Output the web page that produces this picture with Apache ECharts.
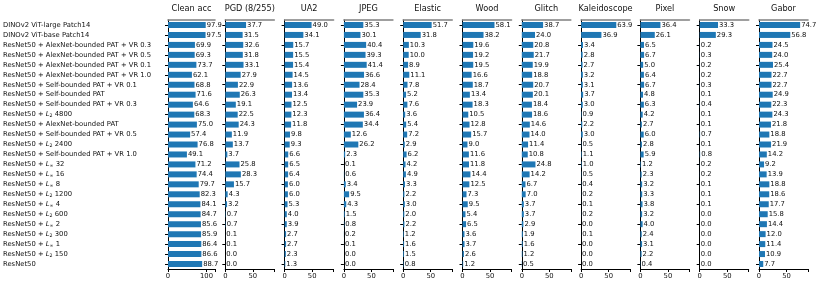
<!DOCTYPE html>
<html>
<head>
<meta charset="utf-8">
<script src="https://cdn.jsdelivr.net/npm/echarts@6/dist/echarts.min.js"></script>
<style>html,body{margin:0;padding:0;background:#fff}#c{width:816px;height:284px}</style>
</head>
<body>
<div id="c"></div>
<script>
const models = [
  "DINOv2 ViT-large Patch14",
  "DINOv2 ViT-base Patch14",
  "ResNet50 + AlexNet-bounded PAT + VR 0.3",
  "ResNet50 + AlexNet-bounded PAT + VR 0.5",
  "ResNet50 + AlexNet-bounded PAT + VR 0.1",
  "ResNet50 + AlexNet-bounded PAT + VR 1.0",
  "ResNet50 + Self-bounded PAT + VR 0.1",
  "ResNet50 + Self-bounded PAT",
  "ResNet50 + Self-bounded PAT + VR 0.3",
  "ResNet50 + L₂ 4800",
  "ResNet50 + AlexNet-bounded PAT",
  "ResNet50 + Self-bounded PAT + VR 0.5",
  "ResNet50 + L₂ 2400",
  "ResNet50 + Self-bounded PAT + VR 1.0",
  "ResNet50 + L∞ 32",
  "ResNet50 + L∞ 16",
  "ResNet50 + L∞ 8",
  "ResNet50 + L₂ 1200",
  "ResNet50 + L∞ 4",
  "ResNet50 + L₂ 600",
  "ResNet50 + L∞ 2",
  "ResNet50 + L₂ 300",
  "ResNet50 + L∞ 1",
  "ResNet50 + L₂ 150",
  "ResNet50"
];
const panelTitles = ["Clean acc","PGD (8/255)","UA2","JPEG","Elastic","Wood","Glitch","Kaleidoscope","Pixel","Snow","Gabor"];
const cleanAcc = [97.9,97.5,69.9,69.3,73.7,62.1,68.8,71.6,64.6,68.3,75.0,57.4,76.8,49.1,71.2,74.4,79.7,82.3,84.1,84.7,85.6,85.9,86.4,86.6,88.7];
const pgd = [37.7,31.5,32.6,31.8,33.1,27.9,22.9,26.3,19.1,22.5,24.3,11.9,13.7,3.7,25.8,28.3,15.7,4.3,3.2,0.7,0.7,0.1,0.1,0.0,0.0];
const ua2 = [49.0,34.1,15.7,15.5,15.4,14.5,13.6,13.4,12.5,12.3,11.8,9.8,9.3,6.6,6.5,6.4,6.0,6.0,5.3,4.0,3.9,2.7,2.7,2.3,1.3];
const jpeg = [35.3,30.1,40.4,39.3,41.4,36.6,28.4,35.3,23.9,36.4,34.4,12.6,26.2,2.3,0.1,0.6,3.4,9.5,4.3,1.5,0.8,0.2,0.1,0.0,0.0];
const elastic = [51.7,31.8,10.3,10.0,8.9,11.1,7.8,5.2,7.6,3.6,5.4,7.2,2.9,6.2,4.2,4.9,3.3,2.2,3.0,2.0,2.2,1.2,1.6,1.5,0.8];
const wood = [58.1,38.2,19.6,19.2,19.5,16.6,18.7,13.4,18.3,10.5,12.8,15.7,9.0,11.6,11.8,14.4,12.5,7.3,9.5,5.4,6.5,3.6,3.7,2.6,1.2];
const glitch = [38.7,24.0,20.8,21.7,19.9,18.8,20.7,20.1,18.4,18.6,14.6,14.0,11.4,10.8,24.8,14.2,6.7,7.0,3.7,3.7,2.9,1.9,1.6,1.2,0.5];
const kaleidoscope = [63.9,36.9,3.4,2.8,2.7,3.2,3.1,3.7,3.0,0.9,2.2,3.0,0.5,1.1,1.0,0.5,0.4,0.2,0.1,0.2,0.0,0.1,0.0,0.0,0.0];
const pixel = [36.4,26.1,6.5,6.7,5.0,6.4,6.7,4.8,6.3,4.2,2.7,6.0,2.8,5.9,1.2,2.3,3.2,3.3,3.8,3.2,4.0,2.4,3.1,2.2,0.4];
const snow = [33.3,29.3,0.2,0.3,0.2,0.2,0.3,0.1,0.4,0.1,0.1,0.7,0.1,0.8,0.2,0.2,0.1,0.1,0.1,0.0,0.0,0.0,0.0,0.0,0.0];
const gabor = [74.7,56.8,24.5,24.0,25.4,22.7,22.7,24.9,22.3,24.3,21.8,18.8,21.9,14.2,9.2,13.9,18.8,18.6,17.7,15.8,14.4,12.0,11.4,10.9,7.7];
const panelData = [cleanAcc,pgd,ua2,jpeg,elastic,wood,glitch,kaleidoscope,pixel,snow,gabor];
const cleanTicks = [0,100];
const otherTicks = [0,50];

const FONT = "DejaVu Sans";
const FS = 6.8;
const TXT = "#111";
const firstLeft = 166, step = 59.3, pw = 49, gTop = 13, gBottom = 15;

const grids=[], xAxes=[], yAxes=[], series=[];
panelTitles.forEach((t,i)=>{
  const left = firstLeft + i*step;
  grids.push({left: left, width: pw, top: gTop, bottom: gBottom, containLabel:false});
  const ticks = i===0 ? cleanTicks : otherTicks;
  const maxV = i===0 ? 122 : 89;
  xAxes.push({
    gridIndex:i, type:'value', min:0, max:maxV, position:'bottom',
    interval: ticks[1]-ticks[0],
    axisLine:{show:true, lineStyle:{color:'#000', width:1}},
    axisTick:{show:true, length:3, lineStyle:{color:'#000'}},
    axisLabel:{show:true, fontFamily:FONT, fontSize:FS, color:TXT, margin:4,
      formatter:v=> ticks.indexOf(v)>=0 ? String(v) : ''},
    splitLine:{show:false}
  });
  xAxes.push({
    gridIndex:i, type:'value', min:0, max:maxV, position:'top',
    name:t, nameLocation:'middle', nameGap:7,
    nameTextStyle:{fontFamily:FONT, fontSize:8.2, color:TXT},
    axisLine:{show:true, lineStyle:{color:'#808080', width:1.6}},
    axisTick:{show:false}, axisLabel:{show:false}, splitLine:{show:false}
  });
  yAxes.push({
    gridIndex:i, type:'category', data:models, inverse:true,
    axisLine:{show:true, onZero:false, lineStyle:{color:'#000', width:1}},
    axisTick:{show:true, length:3, alignWithLabel:true, lineStyle:{color:'#000'}},
    axisLabel: i===0 ? {
      show:true, interval:0, align:'left', margin:firstLeft-1,
      fontFamily:FONT, fontSize:FS, color:TXT,
      formatter: v => v.replace('L₂','{it|L}{sub|2}').replace('L∞','{it|L}{sub|∞}'),
      rich:{
        it:{fontFamily:FONT, fontSize:FS, fontStyle:'italic', color:TXT},
        sub:{fontFamily:FONT, fontSize:4.8, color:TXT, padding:[3,0,0,0]}
      }
    } : {show:false}
  });
  series.push({
    type:'bar', xAxisIndex:2*i, yAxisIndex:i, data:panelData[i],
    barWidth:6, itemStyle:{color:'#1f77b4'},
    label:{show:true, position:'right', distance:1, fontFamily:FONT, fontSize:FS, color:TXT,
      formatter:p=>p.value.toFixed(1)},
    animation:false
  });
});

const chart = echarts.init(document.getElementById('c'), null, {renderer:'canvas'});
chart.setOption({animation:false, grid:grids, xAxis:xAxes, yAxis:yAxes, series:series});
</script>
</body>
</html>
